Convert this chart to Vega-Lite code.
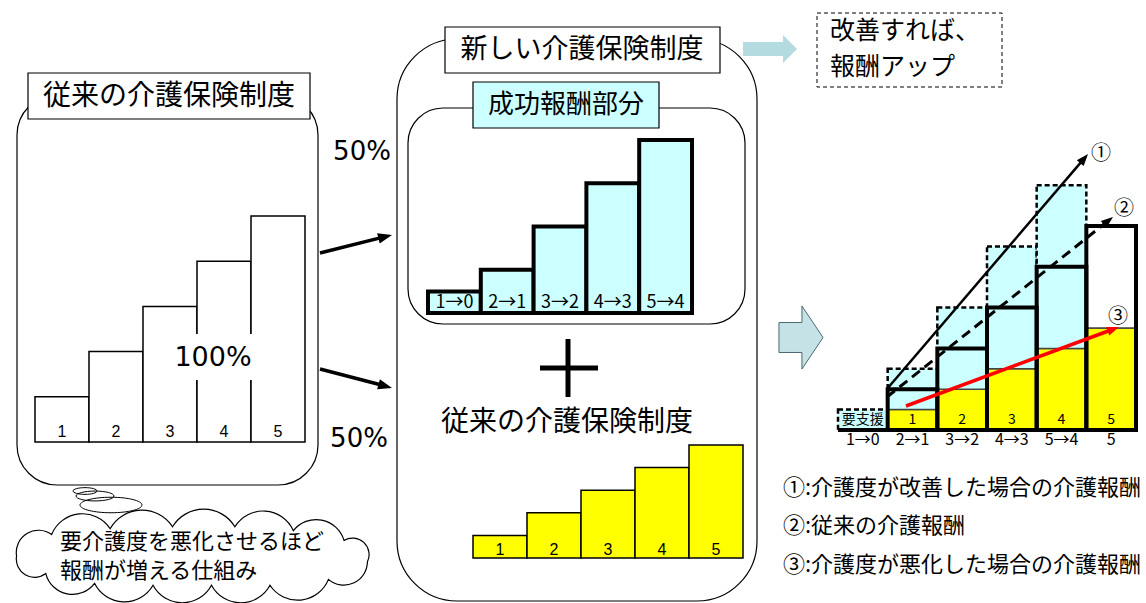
{
  "$schema": "https://vega.github.io/schema/vega-lite/v6.json",
  "width": 1146,
  "height": 603,
  "padding": 0,
  "autosize": "none",
  "background": "white",
  "config": {"view": {"stroke": null}, "axis": {"disable": true}, "text": {"font": "Noto Sans CJK JP"}},
  "resolve": {"scale": {"x": "independent", "y": "independent"}},
  "layer": [
    {
      "encoding": {
        "x": {"field": "x", "type": "quantitative", "scale": {"domain": [0, 1146], "range": [0, 1146], "nice": false, "zero": false}, "axis": null},
        "y": {"field": "y", "type": "quantitative", "scale": {"domain": [0, 603], "range": [0, 603], "nice": false, "zero": false}, "axis": null}
      },
      "layer": [
        {"data": {"values": [{"box": "従来の介護保険制度", "x": 17, "x2": 318, "y": 95, "y2": 485}]},
         "mark": {"type": "rect", "cornerRadius": 40, "fill": "white", "stroke": "black", "strokeWidth": 1.2},
         "encoding": {"x2": {"field": "x2"}, "y2": {"field": "y2"}}},
        {"data": {"values": [{"box": "新しい介護保険制度", "x": 397, "x2": 757, "y": 39, "y2": 601}]},
         "mark": {"type": "rect", "cornerRadius": 60, "fill": "white", "stroke": "black", "strokeWidth": 1.2},
         "encoding": {"x2": {"field": "x2"}, "y2": {"field": "y2"}}},
        {"data": {"values": [{"box": "成功報酬部分", "x": 408, "x2": 745, "y": 108, "y2": 324}]},
         "mark": {"type": "rect", "cornerRadius": 35, "fill": "white", "stroke": "black", "strokeWidth": 1.2},
         "encoding": {"x2": {"field": "x2"}, "y2": {"field": "y2"}}},
        {"data": {"values": [{"part": "cloud", "x": 192, "y": 556}]},
         "mark": {"type": "point", "shape": "M -0.9 0 A 0.114 0.114 0 0 1 -0.72 -0.11 A 0.17 0.17 0 0 1 -0.42 -0.14 A 0.187 0.187 0 0 1 -0.1 -0.15 A 0.187 0.187 0 0 1 0.22 -0.15 A 0.17 0.17 0 0 1 0.52 -0.13 A 0.149 0.149 0 0 1 0.78 -0.08 A 0.085 0.085 0 0 1 0.9 0.03 A 0.121 0.121 0 0 1 0.7 0.12 A 0.17 0.17 0 0 1 0.4 0.15 A 0.17 0.17 0 0 1 0.1 0.15 A 0.17 0.17 0 0 1 -0.2 0.15 A 0.17 0.17 0 0 1 -0.5 0.14 A 0.141 0.141 0 0 1 -0.75 0.09 A 0.094 0.094 0 0 1 -0.9 0 Z", "size": 152000, "filled": true, "fill": "white", "stroke": "black", "strokeWidth": 1.2, "opacity": 1}},
        {"data": {"values": [{"part": "bubble1", "x": 85, "y": 491}]},
         "mark": {"type": "point", "shape": "M -1 0 A 1 0.28 0 1 1 1 0 A 1 0.28 0 1 1 -1 0 Z", "size": 576, "filled": false, "stroke": "black", "strokeWidth": 1, "opacity": 1}},
        {"data": {"values": [{"part": "bubble2", "x": 95, "y": 496}]},
         "mark": {"type": "point", "shape": "M -1 0 A 1 0.26 0 1 1 1 0 A 1 0.26 0 1 1 -1 0 Z", "size": 1444, "filled": false, "stroke": "black", "strokeWidth": 1, "opacity": 1}},
        {"data": {"values": [{"part": "bubble3", "x": 111, "y": 505}]},
         "mark": {"type": "point", "shape": "M -1 0 A 1 0.25 0 1 1 1 0 A 1 0.25 0 1 1 -1 0 Z", "size": 3844, "filled": false, "stroke": "black", "strokeWidth": 1, "opacity": 1}}
      ]
    },
    {
      "data": {"values": [{"level": "1", "value": 1}, {"level": "2", "value": 2}, {"level": "3", "value": 3}, {"level": "4", "value": 4}, {"level": "5", "value": 5}]},
      "encoding": {
        "x": {"field": "level", "type": "ordinal", "scale": {"range": [35, 305], "paddingInner": 0, "paddingOuter": 0}, "axis": null}
      },
      "layer": [
        {"mark": {"type": "bar", "fill": "white", "stroke": "black", "strokeWidth": 1.5},
         "encoding": {"y": {"field": "value", "type": "quantitative", "scale": {"domain": [0, 5], "range": [442, 216], "nice": false}, "axis": null}}},
        {"mark": {"type": "text", "fontSize": 16, "font": "Liberation Sans", "baseline": "middle"},
         "encoding": {"y": {"datum": 0.22, "type": "quantitative", "scale": {"domain": [0, 5], "range": [442, 216], "nice": false}, "axis": null}, "text": {"field": "level"}}}
      ]
    },
    {
      "data": {"values": [{"change": "1→0", "value": 0.5}, {"change": "2→1", "value": 1}, {"change": "3→2", "value": 2}, {"change": "4→3", "value": 3}, {"change": "5→4", "value": 4}]},
      "encoding": {
        "x": {"field": "change", "type": "ordinal", "scale": {"domain": ["1→0", "2→1", "3→2", "4→3", "5→4"], "range": [428, 692], "paddingInner": 0, "paddingOuter": 0}, "axis": null}
      },
      "layer": [
        {"mark": {"type": "bar", "fill": "#CCFFFF", "stroke": "black", "strokeWidth": 4},
         "encoding": {"y": {"field": "value", "type": "quantitative", "scale": {"domain": [0, 4], "range": [313, 140], "nice": false}, "axis": null}}},
        {"mark": {"type": "text", "fontSize": 18, "font": "Noto Sans CJK JP", "baseline": "middle"},
         "encoding": {"y": {"datum": 0.23, "type": "quantitative", "scale": {"domain": [0, 4], "range": [313, 140], "nice": false}, "axis": null}, "text": {"field": "change"}}}
      ]
    },
    {
      "data": {"values": [{"level": "1", "value": 0.5}, {"level": "2", "value": 1}, {"level": "3", "value": 1.5}, {"level": "4", "value": 2}, {"level": "5", "value": 2.5}]},
      "encoding": {
        "x": {"field": "level", "type": "ordinal", "scale": {"range": [473, 743], "paddingInner": 0, "paddingOuter": 0}, "axis": null}
      },
      "layer": [
        {"mark": {"type": "bar", "fill": "#FFFF00", "stroke": "black", "strokeWidth": 1.5},
         "encoding": {"y": {"field": "value", "type": "quantitative", "scale": {"domain": [0, 2.5], "range": [558, 445], "nice": false}, "axis": null}}},
        {"mark": {"type": "text", "fontSize": 16, "font": "Liberation Sans", "baseline": "middle"},
         "encoding": {"y": {"datum": 0.18, "type": "quantitative", "scale": {"domain": [0, 2.5], "range": [558, 445], "nice": false}, "axis": null}, "text": {"field": "level"}}}
      ]
    },
    {
      "data": {"values": [
        {"col": "1→0", "seg": "improve", "lo": 0, "hi": 1},
        {"col": "2→1", "seg": "base", "lo": 0, "hi": 1}, {"col": "2→1", "seg": "success", "lo": 1, "hi": 2}, {"col": "2→1", "seg": "improve", "lo": 2, "hi": 3},
        {"col": "3→2", "seg": "base", "lo": 0, "hi": 2}, {"col": "3→2", "seg": "success", "lo": 2, "hi": 4}, {"col": "3→2", "seg": "improve", "lo": 4, "hi": 6},
        {"col": "4→3", "seg": "base", "lo": 0, "hi": 3}, {"col": "4→3", "seg": "success", "lo": 3, "hi": 6}, {"col": "4→3", "seg": "improve", "lo": 6, "hi": 9},
        {"col": "5→4", "seg": "base", "lo": 0, "hi": 4}, {"col": "5→4", "seg": "success", "lo": 4, "hi": 8}, {"col": "5→4", "seg": "improve", "lo": 8, "hi": 12},
        {"col": "5", "seg": "base", "lo": 0, "hi": 5}, {"col": "5", "seg": "unpaid", "lo": 5, "hi": 10}
      ]},
      "encoding": {
        "x": {"field": "col", "type": "ordinal", "scale": {"domain": ["1→0", "2→1", "3→2", "4→3", "5→4", "5"], "range": [838, 1136], "paddingInner": 0, "paddingOuter": 0}, "axis": null}
      },
      "layer": [
        {"transform": [{"filter": "datum.seg === 'improve'"}],
         "mark": {"type": "bar", "fill": "#CCFFFF", "stroke": "black", "strokeWidth": 2.5, "strokeDash": [5, 3]},
         "encoding": {"y": {"field": "lo", "type": "quantitative", "scale": {"domain": [0, 12], "range": [430, 185.2], "nice": false}, "axis": null}, "y2": {"field": "hi"}}},
        {"transform": [{"filter": "datum.seg === 'base'"}],
         "mark": {"type": "bar", "fill": "#FFFF00", "stroke": "#444444", "strokeWidth": 1.5},
         "encoding": {"y": {"field": "lo", "type": "quantitative", "scale": {"domain": [0, 12], "range": [430, 185.2], "nice": false}, "axis": null}, "y2": {"field": "hi"}}},
        {"transform": [{"filter": "datum.seg === 'success'"}],
         "mark": {"type": "bar", "fill": "#CCFFFF", "stroke": "#444444", "strokeWidth": 1.5},
         "encoding": {"y": {"field": "lo", "type": "quantitative", "scale": {"domain": [0, 12], "range": [430, 185.2], "nice": false}, "axis": null}, "y2": {"field": "hi"}}},
        {"transform": [{"filter": "datum.seg === 'unpaid'"}],
         "mark": {"type": "bar", "fill": "white", "stroke": "#444444", "strokeWidth": 1.5},
         "encoding": {"y": {"field": "lo", "type": "quantitative", "scale": {"domain": [0, 12], "range": [430, 185.2], "nice": false}, "axis": null}, "y2": {"field": "hi"}}},
        {"transform": [{"filter": "datum.seg !== 'improve'"}, {"aggregate": [{"op": "max", "field": "hi", "as": "top"}], "groupby": ["col"]}],
         "mark": {"type": "bar", "fillOpacity": 0, "stroke": "black", "strokeWidth": 4},
         "encoding": {"y": {"field": "top", "type": "quantitative", "scale": {"domain": [0, 12], "range": [430, 185.2], "nice": false}, "axis": null}}},
        {"data": {"values": [{"col": "1→0", "inner": "要支援"}, {"col": "2→1", "inner": "1"}, {"col": "3→2", "inner": "2"}, {"col": "4→3", "inner": "3"}, {"col": "5→4", "inner": "4"}, {"col": "5", "inner": "5"}]},
         "layer": [
           {"mark": {"type": "text", "fontSize": 14, "font": "Noto Sans CJK JP", "baseline": "middle"},
            "encoding": {"y": {"datum": 0.5, "type": "quantitative", "scale": {"domain": [0, 12], "range": [430, 185.2], "nice": false}, "axis": null}, "text": {"field": "inner"}}},
           {"mark": {"type": "text", "fontSize": 16, "font": "Noto Sans CJK JP", "baseline": "middle"},
            "encoding": {"y": {"datum": -0.5, "type": "quantitative", "scale": {"domain": [0, 12], "range": [430, 185.2], "nice": false}, "axis": null}, "text": {"field": "col"}}}
         ]}
      ]
    },
    {
      "encoding": {
        "x": {"field": "x", "type": "quantitative", "scale": {"domain": [0, 1146], "range": [0, 1146], "nice": false, "zero": false}, "axis": null},
        "y": {"field": "y", "type": "quantitative", "scale": {"domain": [0, 603], "range": [0, 603], "nice": false, "zero": false}, "axis": null}
      },
      "layer": [
        {"data": {"values": [{"box": "従来の介護保険制度", "x": 28, "x2": 310, "y": 73, "y2": 119}, {"box": "新しい介護保険制度", "x": 445, "x2": 720, "y": 27, "y2": 73}]},
         "mark": {"type": "rect", "fill": "white", "stroke": "black", "strokeWidth": 1.2},
         "encoding": {"x2": {"field": "x2"}, "y2": {"field": "y2"}}},
        {"data": {"values": [{"box": "成功報酬部分", "x": 473, "x2": 659, "y": 82, "y2": 128}]},
         "mark": {"type": "rect", "fill": "#CCFFFF", "stroke": "black", "strokeWidth": 1.2},
         "encoding": {"x2": {"field": "x2"}, "y2": {"field": "y2"}}},
        {"data": {"values": [{"box": "改善すれば、報酬アップ", "x": 817, "x2": 1002, "y": 13, "y2": 87}]},
         "mark": {"type": "rect", "fill": "white", "stroke": "black", "strokeWidth": 1, "strokeDash": [4, 3]},
         "encoding": {"x2": {"field": "x2"}, "y2": {"field": "y2"}}},
        {"data": {"values": [{"box": "100%", "x": 170, "x2": 258, "y": 334, "y2": 380}]},
         "mark": {"type": "rect", "fill": "white"},
         "encoding": {"x2": {"field": "x2"}, "y2": {"field": "y2"}}},
        {"data": {"values": [{"arrow": "上", "x": 320, "y": 253, "x2": 382.3, "y2": 237.4}, {"arrow": "下", "x": 320, "y": 369, "x2": 382.4, "y2": 385.3}]},
         "mark": {"type": "rule", "color": "black", "strokeWidth": 3.5},
         "encoding": {"x2": {"field": "x2"}, "y2": {"field": "y2"}}},
        {"data": {"values": [{"part": "縦", "x": 568, "y": 339, "x2": 568, "y2": 397}, {"part": "横", "x": 540, "y": 368, "x2": 598, "y2": 368}]},
         "mark": {"type": "rule", "color": "black", "strokeWidth": 5},
         "encoding": {"x2": {"field": "x2"}, "y2": {"field": "y2"}}},
        {"data": {"values": [{"part": "baseline", "x": 838, "y": 430, "x2": 1136, "y2": 430}]},
         "mark": {"type": "rule", "color": "black", "strokeWidth": 4},
         "encoding": {"x2": {"field": "x2"}, "y2": {"field": "y2"}}},
        {"data": {"values": [{"line": "①", "x": 887, "y": 389, "x2": 1081.5, "y2": 161.6}]},
         "mark": {"type": "rule", "color": "black", "strokeWidth": 2.5},
         "encoding": {"x2": {"field": "x2"}, "y2": {"field": "y2"}}},
        {"data": {"values": [{"line": "②", "x": 887, "y": 397, "x2": 1105.2, "y2": 223.2}]},
         "mark": {"type": "rule", "color": "black", "strokeWidth": 3, "strokeDash": [10, 6]},
         "encoding": {"x2": {"field": "x2"}, "y2": {"field": "y2"}}},
        {"data": {"values": [{"line": "③", "x": 906, "y": 406, "x2": 1109.6, "y2": 330.5}]},
         "mark": {"type": "rule", "color": "#FF0000", "strokeWidth": 3.5},
         "encoding": {"x2": {"field": "x2"}, "y2": {"field": "y2"}}},
        {"data": {"values": [{"head": "上", "x": 392, "y": 235}]},
         "mark": {"type": "point", "shape": "M 0 0 L -2 -0.75 L -2 0.75 Z", "size": 196, "angle": -14, "filled": true, "fill": "black", "strokeWidth": 0, "opacity": 1}},
        {"data": {"values": [{"head": "下", "x": 392, "y": 388}]},
         "mark": {"type": "point", "shape": "M 0 0 L -2 -0.75 L -2 0.75 Z", "size": 196, "angle": 15.5, "filled": true, "fill": "black", "strokeWidth": 0, "opacity": 1}},
        {"data": {"values": [{"head": "①", "x": 1088, "y": 154}]},
         "mark": {"type": "point", "shape": "M 0 0 L -2 -0.75 L -2 0.75 Z", "size": 144, "angle": -49.6, "filled": true, "fill": "black", "strokeWidth": 0, "opacity": 1}},
        {"data": {"values": [{"head": "②", "x": 1113, "y": 217}]},
         "mark": {"type": "point", "shape": "M 0 0 L -2 -0.75 L -2 0.75 Z", "size": 144, "angle": -38.5, "filled": true, "fill": "black", "strokeWidth": 0, "opacity": 1}},
        {"data": {"values": [{"head": "③", "x": 1119, "y": 327}]},
         "mark": {"type": "point", "shape": "M 0 0 L -2 -0.75 L -2 0.75 Z", "size": 144, "angle": -20.3, "filled": true, "fill": "#FF0000", "strokeWidth": 0, "opacity": 1}},
        {"data": {"values": [{"block": "右", "x": 801, "y": 337.5}]},
         "mark": {"type": "point", "shape": "M -0.7 -0.476 L 0.03 -0.476 L 0.03 -1 L 0.7 0 L 0.03 1 L 0.03 0.476 L -0.7 0.476 Z", "size": 3969, "filled": true, "fill": "#C5E3E6", "stroke": "#4a6a70", "strokeWidth": 1, "opacity": 1}},
        {"data": {"values": [{"block": "上", "x": 770, "y": 49}]},
         "mark": {"type": "point", "shape": "M -1.93 -0.5 L 0.93 -0.5 L 0.93 -1 L 1.93 0 L 0.93 1 L 0.93 0.5 L -1.93 0.5 Z", "size": 784, "filled": true, "fill": "#B4DCE0", "strokeWidth": 0, "opacity": 1}},
        {"data": {"values": [{"t": "従来の介護保険制度", "x": 169, "y": 97}, {"t": "従来の介護保険制度", "x": 567, "y": 423}]},
         "mark": {"type": "text", "fontSize": 28, "font": "Noto Sans CJK JP", "baseline": "middle"},
         "encoding": {"text": {"field": "t"}}},
        {"data": {"values": [{"t": "新しい介護保険制度", "x": 582, "y": 50}]},
         "mark": {"type": "text", "fontSize": 27, "font": "Noto Sans CJK JP", "baseline": "middle"},
         "encoding": {"text": {"field": "t"}}},
        {"data": {"values": [{"t": "成功報酬部分", "x": 566, "y": 105}]},
         "mark": {"type": "text", "fontSize": 26, "font": "Noto Sans CJK JP", "baseline": "middle"},
         "encoding": {"text": {"field": "t"}}},
        {"data": {"values": [{"t": "改善すれば、", "x": 830, "y": 31}, {"t": "報酬アップ", "x": 830, "y": 67}]},
         "mark": {"type": "text", "fontSize": 25, "font": "Noto Sans CJK JP", "baseline": "middle", "align": "left"},
         "encoding": {"text": {"field": "t"}}},
        {"data": {"values": [{"t": "要介護度を悪化させるほど", "x": 60, "y": 542}, {"t": "報酬が増える仕組み", "x": 60, "y": 571}]},
         "mark": {"type": "text", "fontSize": 22, "font": "Noto Sans CJK JP", "baseline": "middle", "align": "left"},
         "encoding": {"text": {"field": "t"}}},
        {"data": {"values": [{"t": "①:介護度が改善した場合の介護報酬", "x": 783, "y": 488}, {"t": "②:従来の介護報酬", "x": 783, "y": 526}, {"t": "③:介護度が悪化した場合の介護報酬", "x": 783, "y": 565}]},
         "mark": {"type": "text", "fontSize": 22, "font": "Noto Sans CJK JP", "baseline": "middle", "align": "left"},
         "encoding": {"text": {"field": "t"}}},
        {"data": {"values": [{"t": "①", "x": 1101, "y": 154}, {"t": "②", "x": 1124, "y": 209}, {"t": "③", "x": 1118, "y": 317}]},
         "mark": {"type": "text", "fontSize": 20, "font": "Noto Sans CJK JP", "baseline": "middle"},
         "encoding": {"text": {"field": "t"}}},
        {"data": {"values": [{"t": "50%", "x": 362, "y": 152}, {"t": "50%", "x": 359, "y": 439}]},
         "mark": {"type": "text", "fontSize": 26, "font": "DejaVu Sans", "baseline": "middle"},
         "encoding": {"text": {"field": "t"}}},
        {"data": {"values": [{"t": "100%", "x": 213, "y": 358}]},
         "mark": {"type": "text", "fontSize": 27, "font": "DejaVu Sans", "baseline": "middle"},
         "encoding": {"text": {"field": "t"}}}
      ]
    }
  ]
}
